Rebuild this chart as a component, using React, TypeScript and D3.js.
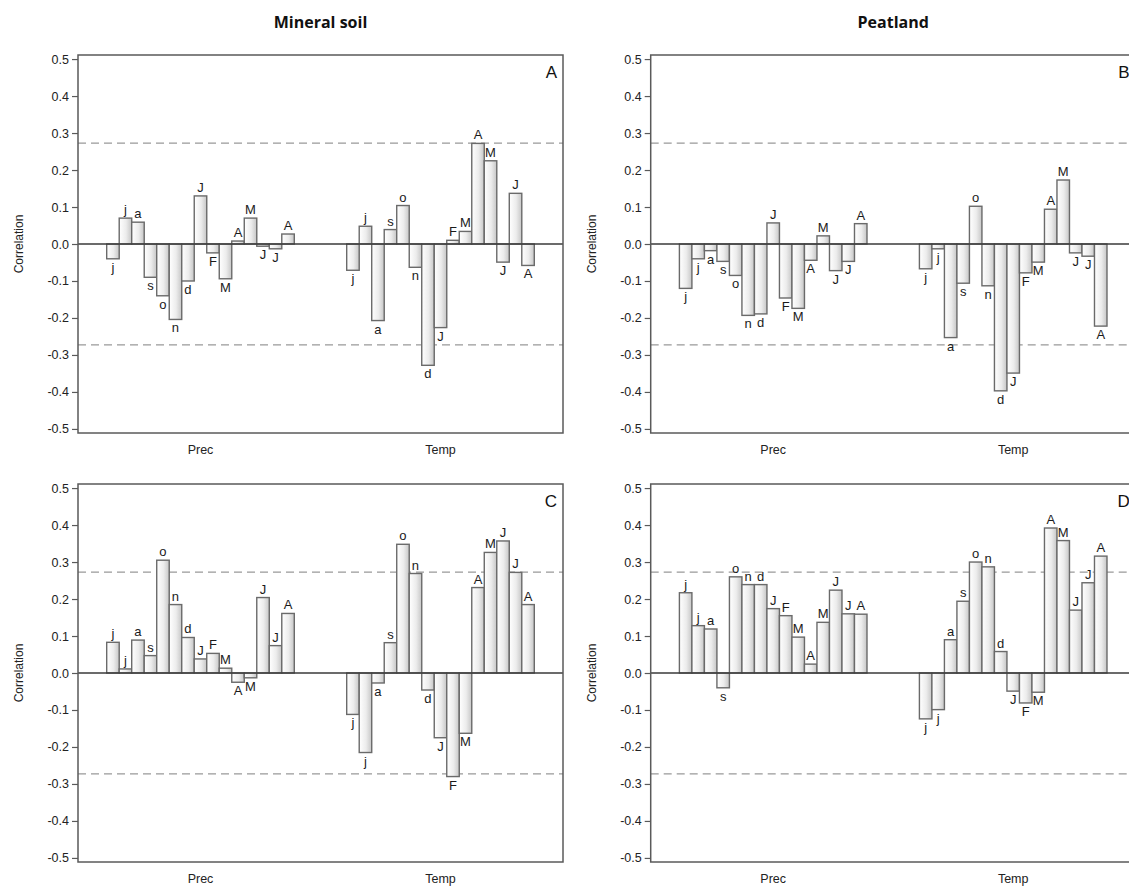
import { useEffect, useRef } from 'react';
import * as d3 from 'd3';

// month codes: previous-year lowercase, current-year uppercase
const months = ['j', 'j', 'a', 's', 'o', 'n', 'd', 'J', 'F', 'M', 'A', 'M', 'J', 'J', 'A'];
const groups = ['Prec', 'Temp'];
const yTicks = [0.5, 0.4, 0.3, 0.2, 0.1, 0.0, -0.1, -0.2, -0.3, -0.4, -0.5];
const criticalR = 0.273;
const columnTitles = ['Mineral soil', 'Peatland'];
const panelLetters = ['A', 'B', 'C', 'D'];

// A: mineral soil, top row
const precA = [-0.04, 0.07, 0.059, -0.09, -0.14, -0.204, -0.1, 0.13, -0.024, -0.094, 0.008, 0.07, -0.006, -0.013, 0.027];
const tempA = [-0.071, 0.048, -0.207, 0.039, 0.104, -0.063, -0.328, -0.226, 0.01, 0.034, 0.272, 0.225, -0.049, 0.137, -0.058];
// B: peatland, top row
const precB = [-0.12, -0.04, -0.018, -0.047, -0.085, -0.193, -0.189, 0.057, -0.146, -0.174, -0.044, 0.022, -0.072, -0.047, 0.055];
const tempB = [-0.067, -0.013, -0.253, -0.106, 0.102, -0.113, -0.397, -0.349, -0.078, -0.049, 0.094, 0.173, -0.024, -0.033, -0.222];
// C: mineral soil, bottom row
const precC = [0.083, 0.011, 0.089, 0.047, 0.305, 0.185, 0.096, 0.038, 0.053, 0.013, -0.025, -0.013, 0.204, 0.074, 0.161];
const tempC = [-0.112, -0.215, -0.027, 0.082, 0.348, 0.269, -0.046, -0.175, -0.28, -0.163, 0.231, 0.326, 0.357, 0.272, 0.185];
// D: peatland, bottom row
const precD = [0.217, 0.128, 0.119, -0.04, 0.26, 0.239, 0.239, 0.174, 0.155, 0.097, 0.024, 0.137, 0.224, 0.16, 0.159];
const tempD = [-0.124, -0.099, 0.09, 0.194, 0.3, 0.287, 0.058, -0.049, -0.081, -0.052, 0.392, 0.358, 0.17, 0.244, 0.316];

const panelData = [
  [precA, tempA],
  [precB, tempB],
  [precC, tempC],
  [precD, tempD],
];

const W = 1129;
const H = 888;

export default function App() {
  const svgRef = useRef<SVGSVGElement>(null);

  useEffect(() => {
    if (!svgRef.current) return;
    const svg = d3.select(svgRef.current);
    svg.selectAll('*').remove();

    const font = 'Arial, "Liberation Sans", sans-serif';
    const panelW = 485;
    const panelH = 378;
    const colX = [78, 650.7];
    const rowY = [55, 484];

    const defs = svg.append('defs');
    const grad = defs.append('linearGradient')
      .attr('id', 'barFill')
      .attr('x1', 0).attr('x2', 1).attr('y1', 0).attr('y2', 0);
    grad.append('stop').attr('offset', '0%').attr('stop-color', '#ffffff');
    grad.append('stop').attr('offset', '55%').attr('stop-color', '#ececec');
    grad.append('stop').attr('offset', '100%').attr('stop-color', '#c6c6c6');

    // column titles
    columnTitles.forEach((t, c) => {
      svg.append('text')
        .attr('x', colX[c] + panelW / 2)
        .attr('y', 28)
        .attr('text-anchor', 'middle')
        .attr('font-family', '"Open Sans", sans-serif')
        .attr('font-weight', 700)
        .attr('font-size', '16px')
        .attr('fill', '#111')
        .text(t);
    });

    panelData.forEach((series, p) => {
      const col = p % 2;
      const row = Math.floor(p / 2);
      const g = svg.append('g')
        .attr('transform', `translate(${colX[col]},${rowY[row]})`);

      const y = d3.scaleLinear().domain([-0.511, 0.511]).range([panelH, 0]);
      const xGroup = d3.scaleBand<string>()
        .domain(groups)
        .range([0, panelW])
        .paddingInner(0.2184)
        .paddingOuter(0.1196);
      const xMonth = d3.scaleBand<number>()
        .domain(d3.range(months.length))
        .range([0, xGroup.bandwidth()])
        .padding(0);

      // critical correlation lines
      [criticalR, -criticalR].forEach(v => {
        g.append('line')
          .attr('x1', 0).attr('x2', panelW)
          .attr('y1', y(v)).attr('y2', y(v))
          .attr('stroke', '#999')
          .attr('stroke-width', 1.2)
          .attr('stroke-dasharray', '8,5');
      });

      // bars
      groups.forEach((grp, gi) => {
        const vals = series[gi];
        const gg = g.append('g').attr('transform', `translate(${xGroup(grp)},0)`);
        gg.selectAll('rect')
          .data(vals)
          .join('rect')
          .attr('x', (_, i) => xMonth(i) || 0)
          .attr('width', xMonth.bandwidth())
          .attr('y', d => y(Math.max(0, d)))
          .attr('height', d => Math.abs(y(d) - y(0)))
          .attr('fill', 'url(#barFill)')
          .attr('stroke', '#6a6a6a')
          .attr('stroke-width', 1.4);

        gg.selectAll('text')
          .data(vals)
          .join('text')
          .attr('x', (_, i) => (xMonth(i) || 0) + xMonth.bandwidth() / 2)
          .attr('y', d => (d >= 0 ? y(d) - 4 : y(d) + 13))
          .attr('text-anchor', 'middle')
          .attr('font-family', font)
          .attr('font-size', '13px')
          .attr('fill', '#1a1a1a')
          .text((_, i) => months[i]);
      });

      // zero line
      g.append('line')
        .attr('x1', 0).attr('x2', panelW)
        .attr('y1', y(0)).attr('y2', y(0))
        .attr('stroke', '#3a3a3a')
        .attr('stroke-width', 1.3);

      // frame
      g.append('rect')
        .attr('x', 0).attr('y', 0)
        .attr('width', panelW).attr('height', panelH)
        .attr('fill', 'none')
        .attr('stroke', '#5a5a5a')
        .attr('stroke-width', 1.5);

      // y axis
      const yAxis = g.append('g')
        .call(d3.axisLeft(y).tickValues(yTicks).tickSize(6).tickPadding(3)
          .tickFormat(d => (+d).toFixed(1)));
      yAxis.select('.domain').remove();
      yAxis.selectAll('line').attr('stroke', '#5a5a5a').attr('stroke-width', 1.2);
      yAxis.selectAll('text')
        .attr('font-family', font)
        .attr('font-size', '12.5px')
        .attr('fill', '#222');

      // x axis (group labels only)
      const xAxis = g.append('g')
        .attr('transform', `translate(0,${panelH})`)
        .call(d3.axisBottom(xGroup).tickSize(0).tickPadding(12));
      xAxis.select('.domain').remove();
      xAxis.selectAll('text')
        .attr('font-family', font)
        .attr('font-size', '12.5px')
        .attr('fill', '#222');

      // y label
      g.append('text')
        .attr('transform', `translate(-59,${panelH / 2}) rotate(-90)`)
        .attr('text-anchor', 'middle')
        .attr('dy', '0.35em')
        .attr('font-family', font)
        .attr('font-size', '12px')
        .attr('fill', '#222')
        .text('Correlation');

      // panel letter
      g.append('text')
        .attr('x', panelW - 6)
        .attr('y', 23)
        .attr('text-anchor', 'end')
        .attr('font-family', font)
        .attr('font-size', '17px')
        .attr('fill', '#111')
        .text(panelLetters[p]);
    });
  }, []);

  return (
    <svg
      ref={svgRef}
      width={W}
      height={H}
      style={{ position: 'absolute', left: 0, top: 0, background: '#fff' }}
    />
  );
}
